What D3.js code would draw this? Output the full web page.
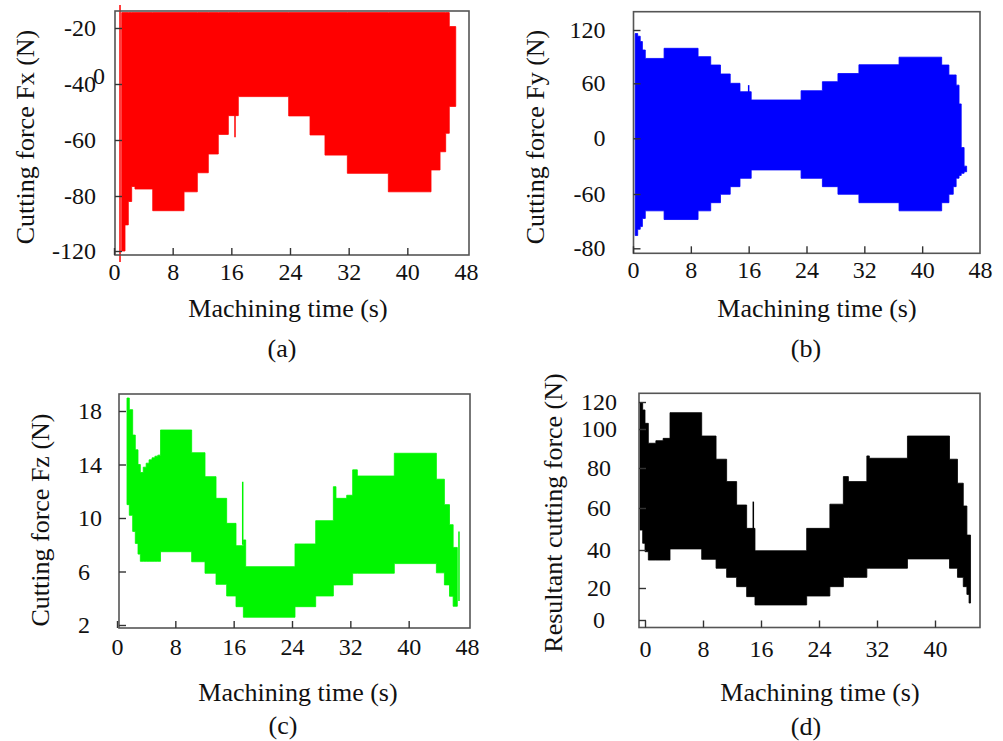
<!DOCTYPE html>
<html>
<head>
<meta charset="utf-8">
<script src="https://cdn.jsdelivr.net/npm/d3@7/dist/d3.min.js"></script>
<style>
  html, body { margin: 0; padding: 0; background: #fff; }
  svg { display: block; }
</style>
</head>
<body>
<svg id="chart" width="1003" height="741"></svg>
<script>
// ---------------- DATA ----------------
// Envelopes of the oscillating force signals: segment start times (s),
// upper and lower envelope values (N); last entry closes the final step.

// (a) Cutting force Fx
const fxTime  = [1.05, 1.5, 1.95, 2.41, 2.86, 5.28, 9.55, 11.36, 12.86, 14.22, 15.59, 16.95, 23.82, 26.73, 28.77, 31.82, 37.41, 43.23, 44.46, 45.23, 45.72, 46.6];
const fxUpper = [-14.5, -14.5, -14.5, -14.5, -14.5, -14.5, -14.5, -14.5, -14.5, -14.5, -14.5, -14.5, -14.5, -14.5, -14.5, -14.5, -14.5, -14.5, -14.5, -14.5, -19.5, -19.5];
const fxLower = [-120, -101, -84, -76.6, -77.5, -90.7, -78.5, -71.7, -65, -58, -51.3, -44.5, -51.4, -58.2, -65.4, -71.9, -78.5, -70.7, -64.2, -57.6, -48, -48];
const fxSpikeTime = [0.82, 16.5];
const fxSpikeTop  = [-11.8, -51.3];
const fxSpikeBot  = [-128, -59];

// (b) Cutting force Fy
const fyTime  = [0.3, 0.65, 1.0, 1.3, 1.7, 4.3, 9.0, 10.75, 12.1, 13.45, 14.8, 16.35, 23.25, 26.2, 28.35, 31.25, 36.8, 42.7, 43.7, 44.3, 44.7, 45.1, 45.4, 45.8, 46.15];
const fyUpper = [116, 113, 107, 97.5, 88, 99.4, 90, 80.6, 70.5, 60, 50.8, 41.8, 51.9, 61.8, 71, 80.9, 89.4, 80.6, 69.4, 69.4, 58, 37.5, -10, -30, -30];
const fyLower = [-75.3, -73, -72, -69, -66.2, -69.4, -66.2, -63.2, -60.1, -52.1, -43.1, -34.1, -43.1, -52.1, -60.1, -63.2, -66.2, -63.2, -60.1, -52.1, -43, -40, -37.7, -36, -36];
const fySpikeTime = [16.0];
const fySpikeTop  = [58];
const fySpikeBot  = [45];

// (c) Cutting force Fz
const fzTime  = [1.37, 1.69, 2.15, 2.51, 2.88, 3.2, 3.6, 4.0, 4.4, 4.8, 5.2, 5.6, 5.97, 10.24, 12.07, 13.58, 15.04, 16.32, 17.33, 17.65, 24.41, 27.25, 29.67, 30.03, 31.5, 32.32, 32.96, 38.03, 43.8, 44.9, 45.6, 46.1, 46.67];
const fzUpper = [18.97, 18.1, 16.2, 15.1, 14.0, 13.4, 13.8, 14.1, 14.35, 14.5, 14.62, 14.7, 16.58, 14.88, 13.09, 11.47, 9.6, 7.93, 8.36, 6.36, 8.06, 9.8, 12.34, 11.47, 11.7, 13.6, 13.14, 14.84, 12.9, 11.0, 9.5, 7.8, 7.8];
const fzLower = [11.0, 10.2, 9.0, 8.1, 7.3, 6.76, 6.76, 6.76, 6.76, 6.76, 6.76, 6.76, 7.48, 6.73, 5.87, 5.04, 4.17, 3.37, 2.58, 2.58, 3.37, 4.17, 4.99, 5.0, 5.0, 5.87, 5.87, 6.59, 5.9, 5.0, 4.15, 3.4, 3.4];
const fzSpikeTime = [17.24, 46.9];
const fzSpikeTop  = [12.71, 9.0];
const fzSpikeBot  = [8.0, 3.8];

// (d) Resultant cutting force
const frTime  = [-0.69, -0.32, 0, 0.46, 1.5, 2.5, 3.45, 7.82, 9.8, 11.26, 12.64, 14.02, 15.17, 22.3, 25.5, 27.36, 28.05, 30.6, 30.94, 36.2, 42.0, 43.1, 43.9, 44.4, 44.7, 44.9];
const frUpper = [119.5, 114.1, 104.2, 92.7, 94.0, 95.2, 112.1, 96.4, 84.5, 73.2, 61.5, 50.3, 39.6, 50.3, 61.9, 75.7, 73.2, 86.2, 85.0, 96.4, 84.5, 72.4, 61, 47.1, 47.1, 47.1];
const frLower = [49.5, 43.2, 39.1, 34.7, 34.7, 34.7, 40.5, 35.1, 30.4, 25.6, 20.7, 14.6, 9.4, 15, 20.7, 25.6, 25.6, 30.4, 30.4, 35.3, 30.4, 25.6, 20.7, 16, 10.6, 10.6];
const frSpikeTime = [14.94];
const frSpikeTop  = [63.2];
const frSpikeBot  = [50];

// Tick labels
const timeTicks48 = [0, 8, 16, 24, 32, 40, 48];
const timeTicks40 = [0, 8, 16, 24, 32, 40];
const fxTicks = [-120, -80, -60, -40, -20];
const fyTicks = [-80, -60, 0, 60, 120];
const fzTicks = [2, 6, 10, 14, 18];
const frTicks = [0, 20, 40, 60, 80, 100, 120];

const xTitle = "Machining time (s)";

// ---------------- LAYOUT ----------------
const panels = [
  { time: fxTime, up: fxUpper, lo: fxLower, st: fxSpikeTime, stop: fxSpikeTop, sbot: fxSpikeBot,
    color: "#ff0000", xTicks: timeTicks48, xDom: [0, 48], xRange: [114, 466],
    yTicks: fxTicks, yRange: [251, 196, 140, 84, 28],
    frame: [115, 11, 469, 255], xPad: 8, yPad: 19, yAnchor: "end",
    yTitle: "Cutting force Fx (N)", yTitlePos: [25, 137], xTitlePos: [288, 308],
    caption: "(a)", capPos: [282, 348] },
  { time: fyTime, up: fyUpper, lo: fyLower, st: fySpikeTime, stop: fySpikeTop, sbot: fySpikeBot,
    color: "#0000ff", xTicks: timeTicks48, xDom: [0, 48], xRange: [633, 980],
    yTicks: fyTicks, yRange: [248.3, 194, 138.3, 83.3, 30],
    frame: [633.5, 11.7, 980, 253.3], xPad: 8, yPad: 28, yAnchor: "end",
    yTitle: "Cutting force Fy (N)", yTitlePos: [535, 137], xTitlePos: [817, 308],
    caption: "(b)", capPos: [806, 348] },
  { time: fzTime, up: fzUpper, lo: fzLower, st: fzSpikeTime, stop: fzSpikeTop, sbot: fzSpikeBot,
    color: "#00f500", xTicks: timeTicks48, xDom: [0, 48], xRange: [117, 467],
    yTicks: fzTicks, yRange: [625, 571.5, 518, 464.5, 411],
    frame: [119, 394, 470, 628], xPad: 10, yPad: 41, yAnchor: "start",
    yTitle: "Cutting force Fz (N)", yTitlePos: [40, 520], xTitlePos: [298, 692],
    caption: "(c)", capPos: [283, 725] },
  { time: frTime, up: frUpper, lo: frLower, st: frSpikeTime, stop: frSpikeTop, sbot: frSpikeBot,
    color: "#000000", xTicks: timeTicks40, xDom: [0, 40], xRange: [645, 935],
    yTicks: frTicks, yRange: [620, 588, 550, 508, 468, 429, 402],
    frame: [639, 393.3, 980, 627.5], xPad: 12, yPad: 40, yAnchor: "middle",
    yTitle: "Resultant cutting force (N)", yTitlePos: [553, 513], xTitlePos: [820, 692],
    caption: "(d)", capPos: [806, 726] }
];

const FONT = "'Liberation Serif', 'Times New Roman', 'DejaVu Serif', serif";
const fmt = d => String(d);   // plain hyphen-minus, as in the original
const svg = d3.select("#chart");

panels.forEach(p => {
  const x = d3.scaleLinear().domain(p.xDom).range(p.xRange);
  const y = d3.scaleLinear().domain(p.yTicks).range(p.yRange);
  const g = svg.append("g");

  const rows = p.time.map((t, i) => ({ t, hi: p.up[i], lo: p.lo[i] }));
  const area = d3.area()
    .curve(d3.curveStepAfter)
    .x(d => x(d.t))
    .y0(d => y(d.lo))
    .y1(d => y(d.hi));
  g.append("path").datum(rows)
    .attr("d", area)
    .attr("fill", p.color)
    .attr("stroke", p.color)
    .attr("stroke-width", 0.8)
    .attr("stroke-linejoin", "miter");

  // thin spikes
  g.selectAll("line.spike").data(p.st.map((t, i) => ({ t, a: p.stop[i], b: p.sbot[i] })))
    .enter().append("line")
    .attr("x1", d => x(d.t)).attr("x2", d => x(d.t))
    .attr("y1", d => y(d.a)).attr("y2", d => y(d.b))
    .attr("stroke", p.color).attr("stroke-width", 1.5);

  // frame
  const [fx0, fy0, fx1, fy1] = p.frame;
  g.append("rect")
    .attr("x", fx0).attr("y", fy0)
    .attr("width", fx1 - fx0).attr("height", fy1 - fy0)
    .attr("fill", "none").attr("stroke", "#555").attr("stroke-width", 1.6);

  // x axis
  const gx = g.append("g").attr("transform", `translate(0,${fy1})`)
    .call(d3.axisBottom(x).tickValues(p.xTicks).tickSize(-7).tickPadding(p.xPad).tickFormat(fmt));
  gx.select(".domain").remove();
  gx.selectAll(".tick line").attr("stroke", "#333").attr("stroke-width", 1.4)
    .filter(d => d === 48).remove();
  gx.selectAll(".tick text").attr("font-family", FONT).attr("font-size", 24).attr("fill", "#111");

  // y axis
  const gy = g.append("g").attr("transform", `translate(${fx0},0)`)
    .call(d3.axisLeft(y).tickValues(p.yTicks).tickSize(-7).tickPadding(p.yPad).tickFormat(fmt));
  gy.select(".domain").remove();
  gy.selectAll(".tick line").attr("stroke", "#333").attr("stroke-width", 1.4);
  gy.selectAll(".tick text").attr("font-family", FONT).attr("font-size", 24).attr("fill", "#111")
    .attr("text-anchor", p.yAnchor)
    .attr("x", -p.yPad);

  // titles
  g.append("text")
    .attr("x", p.xTitlePos[0]).attr("y", p.xTitlePos[1]).attr("dy", "0.35em")
    .attr("text-anchor", "middle").attr("font-family", FONT).attr("font-size", 26).attr("fill", "#111")
    .text(xTitle);
  g.append("text")
    .attr("transform", `translate(${p.yTitlePos[0]},${p.yTitlePos[1]}) rotate(-90)`)
    .attr("dy", "0.35em")
    .attr("text-anchor", "middle").attr("font-family", FONT).attr("font-size", 26).attr("fill", "#111")
    .text(p.yTitle);
  g.append("text")
    .attr("x", p.capPos[0]).attr("y", p.capPos[1]).attr("dy", "0.35em")
    .attr("text-anchor", "middle").attr("font-family", FONT).attr("font-size", 26).attr("fill", "#111")
    .text(p.caption);
});

// stray overlapping "0" next to the -40 label in panel (a), as in the original figure
svg.append("text")
  .attr("x", 99).attr("y", 76).attr("dy", "0.35em")
  .attr("text-anchor", "middle").attr("font-family", FONT).attr("font-size", 24).attr("fill", "#111")
  .text("0");
</script>
</body>
</html>
